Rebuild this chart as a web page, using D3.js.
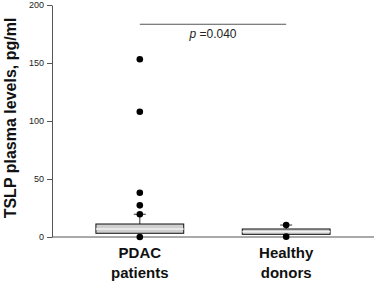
<!DOCTYPE html>
<html>
<head>
<meta charset="utf-8">
<script src="https://cdn.jsdelivr.net/npm/d3@7"></script>
<style>
  body { margin: 0; background: #fff; }
  svg { display: block; font-family: Arial, "Liberation Sans", sans-serif; }
</style>
</head>
<body>
<svg width="375" height="283"></svg>
<script>
let groups = ['PDAC', 'Healthy']
let groupLabels = [['PDAC', 'patients'], ['Healthy', 'donors']]
// box stats: q1, median, q3, upper whisker
let q1 = [3.2, 2.3]
let medians = [7, 4.5]
let q3 = [11.2, 6.9]
let whiskerHi = [19.6, 10.3]
let outliersPdac = [153.2, 108, 38.2, 27.3, 19.6, 0]
let outliersHealthy = [10.3, 0.3]
let yTicks = [0, 50, 100, 150, 200]
let pLabel = '=0.040'
let sigLevel = 183.4

function drawChart () {
  let svg = d3.select('svg')
  let left = 52
  let right = 374
  let top = 5
  let bottom = 237

  let x = d3.scalePoint()
    .domain(groups)
    .range([left, right])
    .padding(0.6)

  let y = d3.scaleLinear()
    .domain([0, 200])
    .range([bottom, top])

  let boxW = x.step() * 0.6

  // y axis
  let yAxis = svg.append('g')
    .attr('transform', `translate(${left},0)`)
    .call(d3.axisLeft(y).tickValues(yTicks).tickSize(5).tickSizeOuter(0).tickPadding(3))
  yAxis.selectAll('text')
    .attr('font-size', 9)
    .attr('font-family', 'Arial, sans-serif')
    .attr('fill', '#222')
  yAxis.selectAll('path, line').attr('stroke', '#555')

  // x axis line
  svg.append('line')
    .attr('x1', left).attr('x2', right)
    .attr('y1', y(0)).attr('y2', y(0))
    .attr('stroke', '#555')

  let outliers = [outliersPdac, outliersHealthy]

  groups.forEach((g, i) => {
    let cx = x(g)
    // whisker
    svg.append('line')
      .attr('x1', cx).attr('x2', cx)
      .attr('y1', y(q3[i])).attr('y2', y(whiskerHi[i]))
      .attr('stroke', '#333')
    svg.append('line')
      .attr('x1', cx - 6).attr('x2', cx + 6)
      .attr('y1', y(whiskerHi[i])).attr('y2', y(whiskerHi[i]))
      .attr('stroke', '#333')
    // box
    svg.append('rect')
      .attr('x', cx - boxW / 2)
      .attr('width', boxW)
      .attr('y', y(q3[i]))
      .attr('height', y(q1[i]) - y(q3[i]))
      .attr('fill', '#cfcfcf')
      .attr('stroke', '#111')
      .attr('stroke-width', 1)
    svg.append('line')
      .attr('x1', cx - boxW / 2).attr('x2', cx + boxW / 2)
      .attr('y1', y(medians[i])).attr('y2', y(medians[i]))
      .attr('stroke', '#f2f2f2')
      .attr('stroke-width', 1.5)

    // points
    svg.selectAll(null)
      .data(outliers[i])
      .enter().append('circle')
      .attr('cx', cx)
      .attr('cy', d => y(d))
      .attr('r', 3.3)
      .attr('fill', '#000')

    // labels
    groupLabels[i].forEach((t, k) => {
      svg.append('text')
        .attr('x', cx)
        .attr('y', 258 + k * 20)
        .attr('text-anchor', 'middle')
        .attr('font-size', 15)
        .attr('font-weight', 'bold')
        .attr('fill', '#111')
        .text(t)
    })
  })

  // significance bar
  svg.append('line')
    .attr('x1', x(groups[0])).attr('x2', x(groups[1]))
    .attr('y1', y(sigLevel)).attr('y2', y(sigLevel))
    .attr('stroke', '#555')
  let pt = svg.append('text')
    .attr('x', (x(groups[0]) + x(groups[1])) / 2)
    .attr('y', 38)
    .attr('text-anchor', 'middle')
    .attr('font-size', 12)
    .attr('fill', '#222')
  pt.append('tspan').attr('font-style', 'italic').text('p ')
  pt.append('tspan').text(pLabel)

  // y title
  svg.append('text')
    .attr('transform', 'translate(15.5,118) rotate(-90)')
    .attr('text-anchor', 'middle')
    .attr('font-size', 16)
    .attr('font-weight', 'bold')
    .attr('fill', '#111')
    .text('TSLP plasma levels, pg/ml')
}

drawChart()
</script>
</body>
</html>
